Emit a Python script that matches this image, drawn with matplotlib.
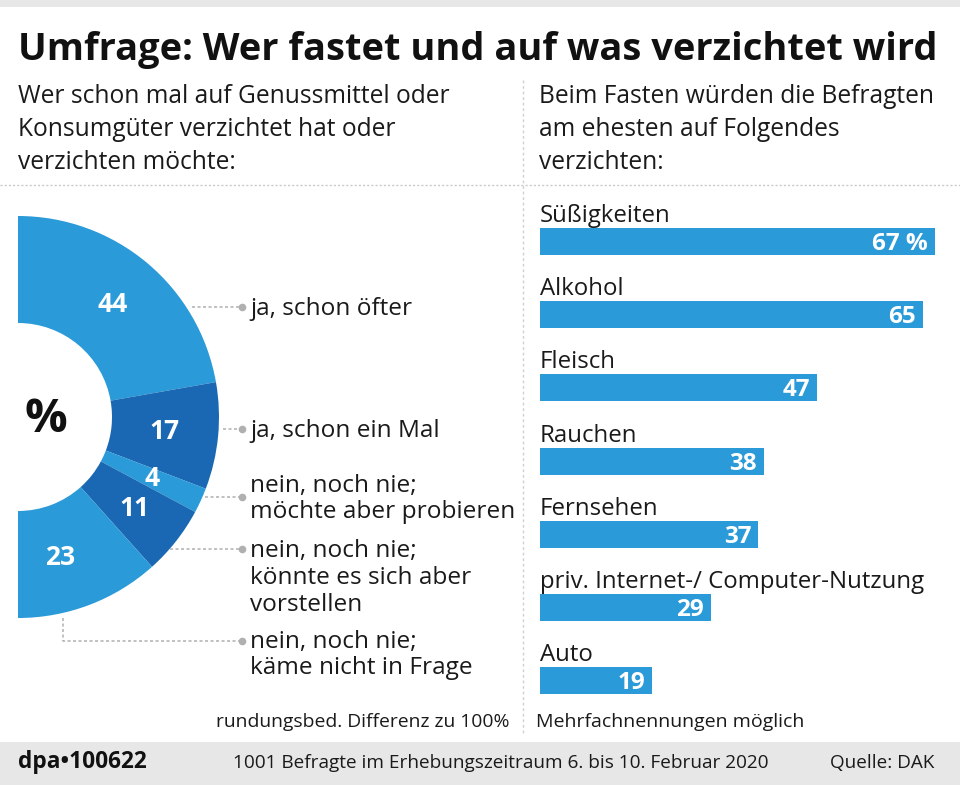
import matplotlib
matplotlib.use("Agg")
import matplotlib.pyplot as plt
import numpy as np

plt.rcParams['font.family'] = ['Open Sans', 'DejaVu Sans']

# ---------------- data ----------------
title = "Umfrage: Wer fastet und auf was verzichtet wird"
left_sub = ["Wer schon mal auf Genussmittel oder",
            "Konsumgüter verzichtet hat oder",
            "verzichten möchte:"]
right_sub = ["Beim Fasten würden die Befragten",
             "am ehesten auf Folgendes",
             "verzichten:"]

donut_labels = [["ja, schon öfter"],
                ["ja, schon ein Mal"],
                ["nein, noch nie;", "möchte aber probieren"],
                ["nein, noch nie;", "könnte es sich aber", "vorstellen"],
                ["nein, noch nie;", "käme nicht in Frage"]]
donut_values = [44, 17, 4, 11, 23]
donut_colors = ["#2a9ad8", "#1a68b3", "#2a9ad8", "#1a68b3", "#2a9ad8"]

bar_categories = ["Süßigkeiten", "Alkohol", "Fleisch", "Rauchen", "Fernsehen",
                  "priv. Internet-/ Computer-Nutzung", "Auto"]
bar_values = [67, 65, 47, 38, 37, 29, 19]

note_left = "rundungsbed. Differenz zu 100%"
note_right = "Mehrfachnennungen möglich"
footer_id = "dpa\u2022100622"
footer_mid = "1001 Befragte im Erhebungszeitraum 6. bis 10. Februar 2020"
footer_src = "Quelle: DAK"

# ---------------- layout ----------------
W, H, DPI = 960, 785, 100
BLUE = "#2a9ad8"
TXT = "#1a1a1a"
GRAY_BAND = "#e7e7e7"

fig = plt.figure(figsize=(W / DPI, H / DPI), dpi=DPI)
renderer = fig.canvas.get_renderer()


def box(x0, y0, x1, y1):
    return [x0 / W, 1 - y1 / H, (x1 - x0) / W, (y1 - y0) / H]


def fit(t, width):
    bb = t.get_window_extent(renderer)
    t.set_fontsize(t.get_fontsize() * width / bb.width)
    return t


bg = fig.add_axes([0, 0, 1, 1])
bg.set_xlim(0, W)
bg.set_ylim(H, 0)
bg.axis('off')

# bands
bg.axhspan(0, 7, color=GRAY_BAND, lw=0)
bg.axhspan(742, H, color=GRAY_BAND, lw=0)

# title
fit(bg.text(18, 60, title, fontsize=28, fontweight='bold', color="#111111",
            va='baseline'), 917)

# subtitles
base = [103, 136, 169]
fs_sub = None
for i, s in enumerate(left_sub):
    t = bg.text(18, base[i], s, fontsize=16, color=TXT, va='baseline')
    if i == 0:
        fit(t, 431)
        fs_sub = t.get_fontsize()
    else:
        t.set_fontsize(fs_sub)
for i, s in enumerate(right_sub):
    bg.text(539, base[i], s, fontsize=fs_sub, color=TXT, va='baseline')

# separators
bg.plot([0, W], [185, 185], color="#c9c9c9", lw=1.0, ls=(0, (1.5, 1.5)))
bg.plot([523, 523], [80, 735], color="#d0d0d0", lw=1.0, ls=(0, (2, 2)))

# ---------------- donut ----------------
cx, cy, R, rin = 18, 417, 201, 94
pax = fig.add_axes(box(cx - R, cy - R, cx + R, cy + R))
total = sum(donut_values)
pax.pie(donut_values + [total], colors=donut_colors + ['none'],
        startangle=90, counterclock=False, radius=1,
        wedgeprops=dict(width=1 - rin / R, edgecolor='none', linewidth=0))
pax.set_xlim(-1, 1)
pax.set_ylim(-1, 1)
pax.axis('off')

cum = np.cumsum([0] + donut_values)
rmid = (1 + rin / R) / 2
for i, v in enumerate(donut_values):
    ang = np.deg2rad((cum[i] + v / 2) / total * 180)
    dx = 0 if i < 4 else -0.05
    dy = 0 if i < 4 else -0.015
    pax.text(rmid * np.sin(ang) + dx, rmid * np.cos(ang) + dy, str(v),
             ha='center', va='center', color='white', fontweight='bold',
             fontsize=19)

bg.text(46, 420, "%", ha='center', va='center', fontsize=34,
        fontweight='bold', color="#111111")

# leader lines & labels
lead = [(192, 307), (223, 429), (205, 497), (170, 549), (63, 641)]
label_base = [[315], [437], [492, 518], [557, 584, 611], [648, 674]]
dot_x = 242
LC = "#b0b0b0"
for i, (x0, y0) in enumerate(lead):
    if i == 4:
        bg.plot([x0, x0, dot_x], [618, y0, y0], color=LC, lw=1.1,
                ls=(0, (2, 1.6)))
    else:
        bg.plot([x0, dot_x], [y0, y0], color=LC, lw=1.1, ls=(0, (2, 1.6)))
    bg.plot([dot_x], [y0], 'o', color=LC, ms=5.5, mec='none')

probe = bg.text(0, -100, "möchte aber probieren", fontsize=16)
fit(probe, 264)
fs_lab = probe.get_fontsize()
probe.remove()
for lines, bases in zip(donut_labels, label_base):
    for s, b in zip(lines, bases):
        bg.text(250, b, s, fontsize=fs_lab, color=TXT, va='baseline')

# ---------------- bars ----------------
row = 73.2
first = 241.5
n = len(bar_values)
bax = fig.add_axes(box(540, first - row / 2, 935, first + (n - 0.5) * row))
bax.set_xlim(0, max(bar_values))
bax.set_ylim(n - 0.5, -0.5)
bax.axis('off')
h = 27 / row
ypos = np.arange(n)
bax.barh(ypos, bar_values, height=h, color=BLUE, lw=0)

probe = bg.text(0, -100, bar_categories[5], fontsize=16)
fit(probe, 384)
fs_bar = probe.get_fontsize()
probe.remove()

for i, (c, v) in enumerate(zip(bar_categories, bar_values)):
    bax.annotate(c, xy=(0, i - h / 2), xytext=(0, 6 * 0.72),
                 textcoords='offset points', ha='left', va='baseline',
                 fontsize=fs_bar, color=TXT)
    lab = f"{v} %" if i == 0 else f"{v}"
    bax.annotate(lab, xy=(v, i), xytext=(-7 * 0.72, -8.5 * 0.72),
                 textcoords='offset points', ha='right', va='baseline',
                 fontsize=17.5, fontweight='bold', color='white')

# ---------------- notes & footer ----------------
t = bg.text(510, 727, note_left, ha='right', va='baseline', color=TXT,
            fontsize=12)
fit(t, 293)
t = bg.text(536, 727, note_right, ha='left', va='baseline', color=TXT,
            fontsize=12)
fit(t, 267)

t = bg.text(18, 768, footer_id, ha='left', va='baseline', color="#111111",
            fontsize=14, fontweight='bold')
fit(t, 129)
t = bg.text(233, 768, footer_mid, ha='left', va='baseline', color=TXT,
            fontsize=13)
fit(t, 535)
t = bg.text(934, 768, footer_src, ha='right', va='baseline', color=TXT,
            fontsize=13)
fit(t, 104)

fig.savefig("out.png", dpi=DPI)
